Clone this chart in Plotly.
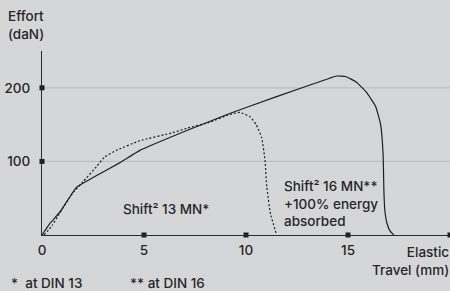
import plotly.graph_objects as go

# Shift² 16 MN (solid)
solid_x = [0, 0.4, 0.9, 1.3, 1.7, 2.5, 3.8, 4.8, 7.1, 9.2, 11.5, 14.1, 14.45, 14.9, 15.4, 15.9, 16.35, 16.6, 16.72, 16.76, 16.8, 16.9, 17.05, 17.25]
solid_y = [0, 16, 32, 49, 65, 78, 98, 115, 142, 165, 188, 213, 216, 215, 208, 194, 175, 150, 110, 60, 35, 17, 6, 0]

# Shift² 13 MN (dotted)
dot_x = [0.1, 0.5, 0.86, 1.5, 2.0, 2.66, 3.07, 3.65, 4.79, 6.41, 7.1, 8.2, 9.2, 9.7, 10.2, 10.5, 10.77, 10.93, 11.02, 11.2, 11.5]
dot_y = [0, 13, 29.5, 57, 72, 92.5, 106, 115, 128, 139, 145, 153, 163.8, 166.5, 160.5, 150, 132, 102, 65, 29, 0]

x_ticks = [0, 5, 10, 15]
x_tick_marks = [5, 10, 15, 20]
y_ticks = [100, 200]

FONT = "Inter"
TXT = "#262626"
BG = "#d5d6d8"

W, H = 450, 291
L, R, T, B = 42, 0, 51, 56
pw, ph = W - L - R, H - T - B


def px(x, y):
    return (x - L) / pw, (H - B - y) / ph


fig = go.Figure()
fig.add_trace(go.Scatter(x=solid_x, y=solid_y, mode="lines",
                         line=dict(color="#1e1e1e", width=1.2, shape="spline", smoothing=0.4),
                         showlegend=False, hoverinfo="skip"))
fig.add_trace(go.Scatter(x=dot_x, y=dot_y, mode="lines",
                         line=dict(color="#1e1e1e", width=1.2, dash="2px,2px", shape="spline", smoothing=0.4),
                         showlegend=False, hoverinfo="skip"))
fig.add_trace(go.Scatter(x=x_tick_marks, y=[0] * len(x_tick_marks), mode="markers",
                         marker=dict(symbol="square", size=5, color="#1e1e1e"),
                         cliponaxis=False, showlegend=False, hoverinfo="skip"))
fig.add_trace(go.Scatter(x=[0] * len(y_ticks), y=y_ticks, mode="markers",
                         marker=dict(symbol="square", size=5, color="#1e1e1e"),
                         cliponaxis=False, showlegend=False, hoverinfo="skip"))

ann = []
def add_px(text, x, y, xanchor="left", yanchor="middle", align="left"):
    ax, ay = px(x, y)
    ann.append(dict(text=text, x=ax, y=ay, xref="paper", yref="paper", showarrow=False,
                    xanchor=xanchor, yanchor=yanchor, align=align))

add_px("Effort<br>(daN)", 6, 6, yanchor="top")
add_px("Elastic<br>Travel (mm)", 451, 242, xanchor="right", yanchor="top", align="right")
add_px("*  at DIN 13", 9, 283)
add_px("** at DIN 16", 128, 283)
ann.append(dict(text="Shift² 13 MN*", x=3.85, y=36, xref="x", yref="y", showarrow=False,
                xanchor="left", yanchor="middle"))
ann.append(dict(text="Shift² 16 MN**<br>+100% energy<br>absorbed", x=11.75, y=80, xref="x", yref="y",
                showarrow=False, xanchor="left", yanchor="top", align="left"))

shapes = [dict(type="line", xref="paper", yref="y", x0=0, x1=1, y0=v, y1=v,
               line=dict(color="#bdbec0", width=1.3), layer="below") for v in y_ticks]

fig.update_layout(
    width=W, height=H,
    margin=dict(l=L, r=R, t=T, b=B),
    paper_bgcolor=BG, plot_bgcolor=BG,
    font=dict(family=FONT, size=13.5, color=TXT, weight=500),
    xaxis=dict(range=[0, 20], tickvals=x_ticks, ticktext=[str(v) for v in x_ticks],
               showgrid=False, zeroline=False, showline=True, linecolor="#2a2a2a", linewidth=1.2,
               ticks="", ticklabelstandoff=3, fixedrange=True),
    yaxis=dict(range=[0, 250], tickvals=y_ticks, ticktext=[str(v) for v in y_ticks],
               showgrid=False, zeroline=False,
               showline=True, linecolor="#2a2a2a", linewidth=1.2,
               ticks="", ticklabelstandoff=8, fixedrange=True),
    annotations=ann,
    shapes=shapes,
)

fig.write_html("out.html", config={"displayModeBar": False},
               post_script="document.body.style.margin='0';")
